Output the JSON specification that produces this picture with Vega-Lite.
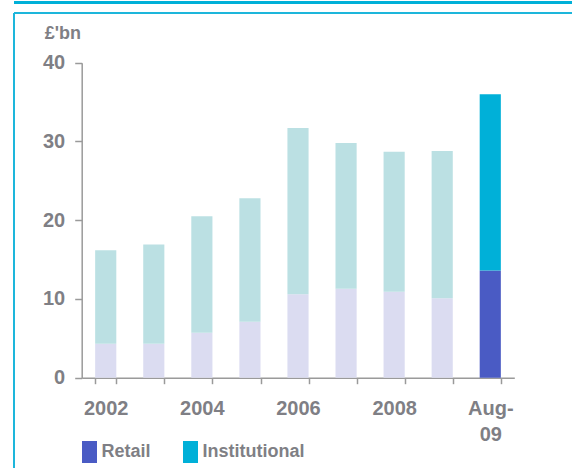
{
  "$schema": "https://vega.github.io/schema/vega-lite/v6.json",
  "padding": {"left": 13, "top": 0, "right": 0, "bottom": 0},
  "background": "white",
  "spacing": 8,
  "config": {"font": "Liberation Sans"},
  "vconcat": [
    {
      "width": 559,
      "height": 3,
      "view": {"fill": "#00B0D8", "stroke": null},
      "data": {"values": [{"k": 0}]},
      "mark": {"type": "rule", "opacity": 0},
      "encoding": {}
    },
    {
      "width": 559,
      "height": 457,
      "view": {"stroke": "#1DB6DB", "strokeWidth": 2, "strokeDash": [559, 1016, 457, 0]},
      "data": {
        "values": [
          {"period": "2002", "type": "Retail", "value": 4.3},
          {"period": "2002", "type": "Institutional", "value": 11.9},
          {"period": "2003", "type": "Retail", "value": 4.3},
          {"period": "2003", "type": "Institutional", "value": 12.6},
          {"period": "2004", "type": "Retail", "value": 5.7},
          {"period": "2004", "type": "Institutional", "value": 14.8},
          {"period": "2005", "type": "Retail", "value": 7.1},
          {"period": "2005", "type": "Institutional", "value": 15.7},
          {"period": "2006", "type": "Retail", "value": 10.6},
          {"period": "2006", "type": "Institutional", "value": 21.1},
          {"period": "2007", "type": "Retail", "value": 11.3},
          {"period": "2007", "type": "Institutional", "value": 18.5},
          {"period": "2008", "type": "Retail", "value": 10.9},
          {"period": "2008", "type": "Institutional", "value": 17.8},
          {"period": "2009", "type": "Retail", "value": 10.1},
          {"period": "2009", "type": "Institutional", "value": 18.7},
          {"period": "Aug-09", "type": "Retail", "value": 13.6},
          {"period": "Aug-09", "type": "Institutional", "value": 22.4}
        ]
      },
      "encoding": {
        "x": {
          "field": "period",
          "type": "nominal",
          "scale": {
            "domain": ["2002", "2003", "2004", "2005", "2006", "2007", "2008", "2009", "Aug-09"],
            "range": [67.7, 500.3],
            "paddingInner": 0.56,
            "paddingOuter": 0.28
          },
          "axis": {
            "title": null,
            "orient": "bottom",
            "offset": -92.3,
            "tickBand": "extent",
            "domainColor": "#9a9a9a",
            "domainWidth": 1.5,
            "tickColor": "#9a9a9a",
            "tickWidth": 1.5,
            "tickSize": 6,
            "labelAngle": 0,
            "labelPadding": 15,
            "labelFont": "Liberation Sans",
            "labelFontSize": 20,
            "labelFontWeight": "bold",
            "labelColor": "#7f7f85",
            "labelLineHeight": 26,
            "labelOverlap": false,
            "labelBound": false,
            "labelExpr": "datum.value == 'Aug-09' ? ['Aug-', '09'] : ((datum.value == '2002' || datum.value == '2004' || datum.value == '2006' || datum.value == '2008') ? datum.value : '')",
            "grid": false
          }
        },
        "y": {
          "field": "value",
          "type": "quantitative",
          "stack": "zero",
          "scale": {"domain": [0, 40], "range": [364.7, 49.7], "nice": false, "zero": true},
          "axis": {
            "orient": "left",
            "offset": -67.7,
            "values": [0, 10, 20, 30, 40],
            "grid": false,
            "domainColor": "#9a9a9a",
            "domainWidth": 1.5,
            "tickColor": "#9a9a9a",
            "tickWidth": 1.5,
            "tickSize": 7,
            "labelPadding": 10,
            "labelFont": "Liberation Sans",
            "labelFontSize": 20,
            "labelFontWeight": "bold",
            "labelColor": "#7f7f85",
            "title": "£'bn",
            "titleAngle": 0,
            "titleX": -37.4,
            "titleY": 25,
            "titleAlign": "left",
            "titleBaseline": "alphabetic",
            "titleFont": "Liberation Sans",
            "titleFontSize": 18,
            "titleFontWeight": "bold",
            "titleColor": "#7f7f85"
          }
        }
      },
      "layer": [
        {
          "transform": [{"filter": "datum.period != 'Aug-09'"}],
          "mark": {"type": "bar"},
          "encoding": {
            "color": {
              "field": "type",
              "type": "nominal",
              "sort": ["Retail", "Institutional"],
              "scale": {"domain": ["Retail", "Institutional"], "range": ["#DBDCF1", "#BBE0E3"]},
              "legend": null
            }
          }
        },
        {
          "transform": [{"filter": "datum.period == 'Aug-09'"}],
          "mark": {"type": "bar"},
          "encoding": {
            "color": {
              "field": "type",
              "type": "nominal",
              "sort": ["Retail", "Institutional"],
              "scale": {"domain": ["Retail", "Institutional"], "range": ["#4A5BC4", "#00B0D8"]},
              "legend": {
                "title": null,
                "orient": "none",
                "legendX": 64.5,
                "legendY": 428,
                "direction": "horizontal",
                "symbolType": "M-0.68,-1H0.68V1H-0.68Z",
                "symbolSize": 484,
                "symbolStrokeWidth": 0,
                "symbolOpacity": 1,
                "labelFont": "Liberation Sans",
                "labelFontSize": 18,
                "labelFontWeight": "bold",
                "labelColor": "#7f7f85",
                "labelOffset": 1,
                "columnPadding": 28,
                "padding": 0
              }
            }
          }
        }
      ],
      "resolve": {"scale": {"color": "independent"}, "legend": {"color": "independent"}}
    }
  ]
}
